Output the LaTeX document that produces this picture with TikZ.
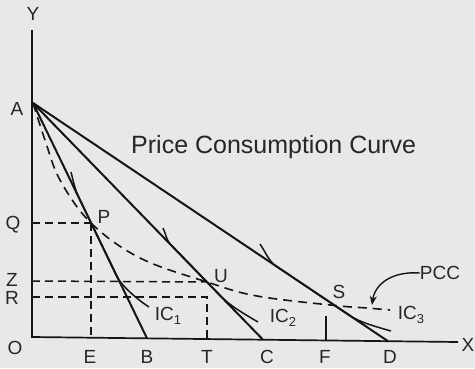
\documentclass[tikz,border=0pt]{standalone}
\usepackage{fontspec}
\setmainfont{Liberation Sans}
\usetikzlibrary{arrows.meta}
\definecolor{bg}{HTML}{E8E8E8}
\definecolor{ink}{HTML}{151515}
\definecolor{txt}{HTML}{262626}
\newcommand{\sub}[1]{\raisebox{-0.4ex}{\fontsize{13}{13}\selectfont #1}}
\tikzset{
  lbl/.style={text=txt, font=\fontsize{19}{20}\selectfont, inner sep=0pt},
  ttl/.style={text=txt, font=\fontsize{25}{27}\selectfont, inner sep=0pt},
  axisline/.style={draw=ink, line width=1.7pt},
  budget/.style={draw=ink, line width=2pt},
  icurve/.style={draw=ink, line width=1.5pt},
  guide/.style={draw=ink, line width=1.5pt, dash pattern=on 8pt off 5pt},
  pccline/.style={draw=ink, line width=1.6pt, dash pattern=on 9pt off 6pt},
}
\begin{document}
\begin{tikzpicture}[x=1pt,y=-1pt]
\fill[bg] (0,0) rectangle (475,368);
\useasboundingbox (0,0) rectangle (475,368);
% key points
\coordinate (O) at (32,337);
\coordinate (Ytop) at (32,30);
\coordinate (Xend) at (458,342);
\coordinate (A) at (33,103);
\coordinate (B) at (147,338.3);
\coordinate (C) at (263,339.7);
\coordinate (D) at (388,341.2);
\coordinate (Ep) at (91,337.7);
\coordinate (Tp) at (207,338.9);
\coordinate (Fp) at (326,340.5);
\coordinate (Fup) at (326,316);
\coordinate (Qp) at (32,223);
\coordinate (Zp) at (32,281);
\coordinate (Rp) at (32,297);
\coordinate (Rend) at (207,297);
\coordinate (P) at (91,223);
\coordinate (U) at (207,282);
\coordinate (S) at (335,305.5);
% axes
\draw[axisline] (Ytop) -- (O) -- (Xend);
% guide lines
\draw[guide] (Qp) -- (P);
\draw[guide] (P) -- (Ep);
\draw[guide] (Zp) -- (U);
\draw[guide] (Rp) -- (Rend) -- (Tp);
\draw[draw=ink, line width=1.8pt] (Fup) -- (Fp);
% budget lines
\draw[budget] (A) -- (B);
\draw[budget] (A) -- (C);
\draw[budget] (A) -- (D);
% indifference curves (touch the budget lines along a stretch)
\draw[icurve] (71,172) .. controls (73,180) and (75.1,189.8) .. (78.6,197)
              -- (116,275) .. controls (121.2,285.8) and (138,300) .. (149,307);
\draw[icurve] (163,228) .. controls (166,234) and (166.1,240) .. (171,245)
              -- (221.5,297) .. controls (229.9,305.6) and (246,315) .. (258,322);
\draw[icurve] (260,244) .. controls (265,251) and (268.5,261) .. (276,266)
              -- (350,315.7) .. controls (360,322.4) and (377,327) .. (391,331);
% price consumption curve
\draw[pccline] plot[smooth, tension=0.6] coordinates
  {(A) (45,140) (60,180) (P) (140,258) (U) (257,296) (S) (367,308) (390,310)};
% labels
\node[lbl] (lY) at (33,14) {Y};
\node[lbl] (lA) at (17,109) {A};
\node[lbl] (lQ) at (13,225) {Q};
\node[lbl] (lZ) at (12,280) {Z};
\node[lbl] (lR) at (12,298) {R};
\node[lbl] (lO) at (15,348) {O};
\node[lbl] (lE) at (90,357) {E};
\node[lbl] (lB) at (147,357) {B};
\node[lbl] (lT) at (207,357) {T};
\node[lbl] (lC) at (267,357) {C};
\node[lbl] (lF) at (325,357) {F};
\node[lbl] (lD) at (390,357) {D};
\node[lbl] (lX) at (468,345) {X};
\node[lbl] (lP) at (104,217) {P};
\node[lbl] (lU) at (221,276) {U};
\node[lbl] (lS) at (339,292) {S};
\node[lbl] (ic1) at (168,316) {IC\sub{1}};
\node[lbl] (ic2) at (283,318) {IC\sub{2}};
\node[lbl] (ic3) at (411,315) {IC\sub{3}};
\node[lbl] (pcc) at (440,273) {PCC};
\node[ttl, anchor=west] (title) at (131,147) {Price Consumption Curve};
\coordinate (pcctip) at (372,305);
\draw[draw=ink, line width=1.4pt, -{Stealth[length=9pt,width=7pt]}]
  (pcc.west) .. controls (392,271) and (375,284) .. (pcctip);
\end{tikzpicture}
\end{document}
